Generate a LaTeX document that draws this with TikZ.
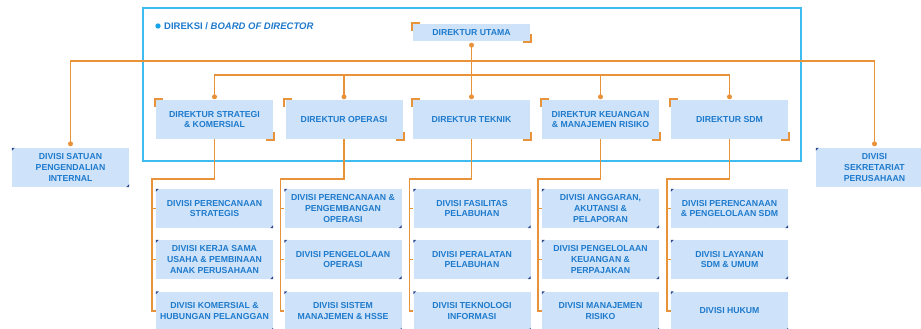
\documentclass[tikz,border=0pt]{standalone}
\usepackage{fontspec}
\setmainfont{Liberation Sans}
\definecolor{boxfill}{RGB}{206,227,250}
\definecolor{txt}{RGB}{30,122,204}
\definecolor{orng}{RGB}{232,146,58}
\definecolor{framec}{RGB}{62,188,240}
\definecolor{bullc}{RGB}{24,164,234}
\definecolor{trif}{RGB}{44,74,140}
\tikzset{
  conn/.style={draw=orng, line width=1.6pt},
  brkt/.style={draw=orng, line width=1.8pt},
  dot/.style={circle, fill=orng, inner sep=0pt, minimum size=5pt},
  lbl/.style={text=txt, font=\bfseries\fontsize{8.7}{10.7}\selectfont, align=center},
  dirbox/.style={lbl, fill=boxfill, minimum width=117pt, minimum height=39pt, inner sep=0pt},
  divbox/.style={lbl, fill=boxfill, minimum width=117pt, minimum height=39pt, inner sep=0pt},
  topbox/.style={lbl, fill=boxfill, minimum width=117pt, minimum height=17pt, inner sep=0pt},
}
\newcommand{\brk}[1]{%
  \draw[brkt] ([xshift=-1pt,yshift=-7pt]#1.north west) -- ([xshift=-1pt,yshift=1pt]#1.north west) -- ([xshift=7pt,yshift=1pt]#1.north west);
  \draw[brkt] ([xshift=1pt,yshift=7pt]#1.south east) -- ([xshift=1pt,yshift=-1pt]#1.south east) -- ([xshift=-7pt,yshift=-1pt]#1.south east);}
\newcommand{\trimark}[1]{%
  \fill[trif] (#1.north west) -- ++(3pt,0pt) -- ++(-3pt,-3pt) -- cycle;
  \fill[trif] (#1.south east) -- ++(-3pt,0pt) -- ++(3pt,3pt) -- cycle;}
\begin{document}
\begin{tikzpicture}[x=1pt,y=-1pt]
\useasboundingbox (0,0) rectangle (921,329);
\clip (0,0) rectangle (921,329);
% frame
\draw[framec, line width=1.5pt] (143,8) rectangle (801,161);
\fill[bullc] (158,26) circle (2.7pt);
\node[anchor=west, text=txt, font=\bfseries\fontsize{9.5}{11}\selectfont, inner sep=0pt] (title) at (164,26.5) {DIREKSI / \textit{BOARD OF DIRECTOR}};
% top
\node[topbox] (du) at (471.5,32.5) {DIREKTUR UTAMA};
% directors
\node[dirbox] (d1) at (214.5,119.5) {DIREKTUR STRATEGI\\\& KOMERSIAL};
\node[dirbox] (d2) at (344,119.5) {DIREKTUR OPERASI};
\node[dirbox] (d3) at (471.5,119.5) {DIREKTUR TEKNIK};
\node[dirbox] (d4) at (600.5,119.5) {DIREKTUR KEUANGAN\\\& MANAJEMEN RISIKO};
\node[dirbox] (d5) at (729.5,119.5) {DIREKTUR SDM};
% side divisions
\node[divbox] (s1) at (70.5,167.5) {DIVISI SATUAN\\PENGENDALIAN\\INTERNAL};
\node[divbox] (s2) at (874.5,167.5) {DIVISI\\SEKRETARIAT\\PERUSAHAAN};
% divisions
\node[divbox] (v11) at (214.5,208.5) {DIVISI PERENCANAAN\\STRATEGIS};
\node[divbox] (v12) at (214.5,259.5) {DIVISI KERJA SAMA\\USAHA \& PEMBINAAN\\ANAK PERUSAHAAN};
\node[divbox] (v13) at (214.5,311) {DIVISI KOMERSIAL \&\\HUBUNGAN PELANGGAN};
\node[divbox] (v21) at (343,208.5) {DIVISI PERENCANAAN \&\\PENGEMBANGAN\\OPERASI};
\node[divbox] (v22) at (343,259.5) {DIVISI PENGELOLAAN\\OPERASI};
\node[divbox] (v23) at (343,311) {DIVISI SISTEM\\MANAJEMEN \& HSSE};
\node[divbox] (v31) at (472,208.5) {DIVISI FASILITAS\\PELABUHAN};
\node[divbox] (v32) at (472,259.5) {DIVISI PERALATAN\\PELABUHAN};
\node[divbox] (v33) at (472,311) {DIVISI TEKNOLOGI\\INFORMASI};
\node[divbox] (v41) at (600.5,208.5) {DIVISI ANGGARAN,\\AKUTANSI \&\\PELAPORAN};
\node[divbox] (v42) at (600.5,259.5) {DIVISI PENGELOLAAN\\KEUANGAN \&\\PERPAJAKAN};
\node[divbox] (v43) at (600.5,311) {DIVISI MANAJEMEN\\RISIKO};
\node[divbox] (v51) at (729.5,208.5) {DIVISI PERENCANAAN\\\& PENGELOLAAN SDM};
\node[divbox] (v52) at (729.5,259.5) {DIVISI LAYANAN\\SDM \& UMUM};
\node[divbox] (v53) at (729.5,311) {DIVISI HUKUM};
% brackets and marks
\brk{du}
\foreach \i in {1,...,5}{\brk{d\i}}
\trimark{s1}\trimark{s2}
\foreach \i in {1,...,5}{\foreach \j in {1,2,3}{\trimark{v\i\j}}}
% connectors: top level
\coordinate (h1) at (471.5,61);
\coordinate (h2) at (471.5,75);
\draw[conn] ([yshift=-4pt]du.south) -- ([yshift=3pt]d3.north);
\draw[conn] ([yshift=4pt]s1.north) |- (h1) -| ([yshift=4pt]s2.north);
\draw[conn] ([yshift=3pt]d1.north) |- (h2) -| ([yshift=3pt]d5.north);
\draw[conn] ([yshift=3pt]d2.north) -- (d2.north |- h2);
\draw[conn] ([yshift=3pt]d4.north) -- (d4.north |- h2);
\node[dot] at ([yshift=-4pt]du.south) {};
\node[dot] at ([yshift=4pt]s1.north) {};
\node[dot] at ([yshift=4pt]s2.north) {};
\foreach \i in {1,...,5}{\node[dot] at ([yshift=3pt]d\i.north) {};}
% connectors: division rails
\foreach \i in {1,...,5}{
  \coordinate (t\i) at ([yshift=10pt]v\i1.north);
  \draw[conn] (d\i.south) -- (t\i -| d\i.south) -| ([xshift=-4pt]v\i3.west) -- (v\i3.west);
  \draw[conn] ([xshift=-4pt]v\i1.west) -- (v\i1.west);
  \draw[conn] ([xshift=-4pt]v\i2.west) -- (v\i2.west);
}
\end{tikzpicture}
\end{document}
